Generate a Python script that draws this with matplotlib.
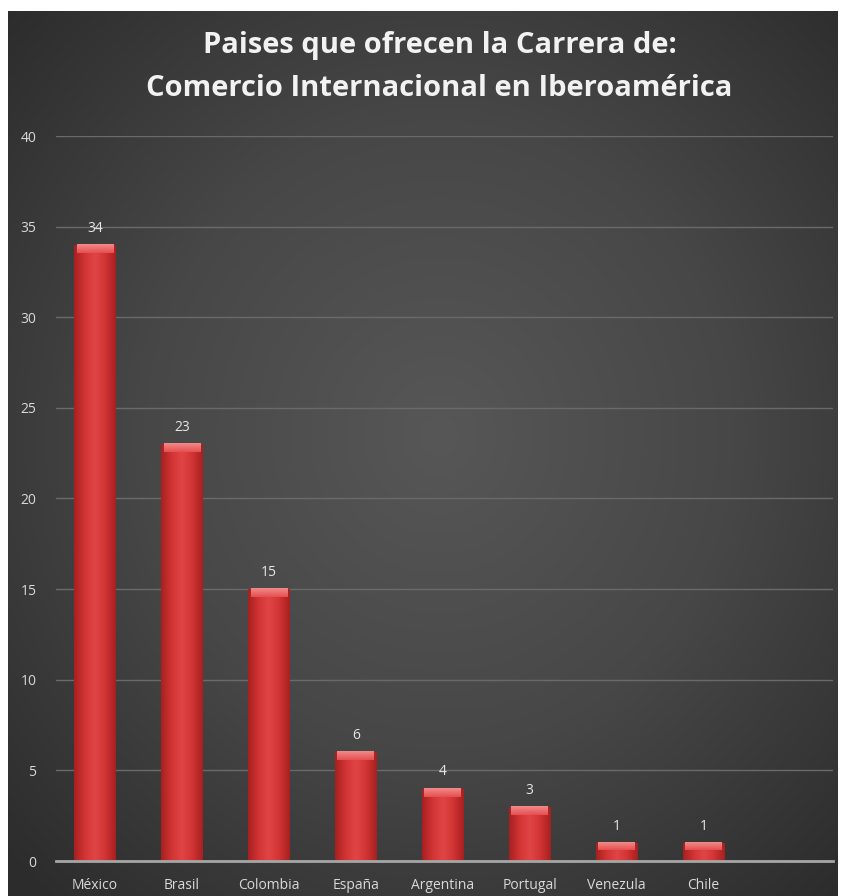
import numpy as np
import matplotlib.pyplot as plt
from matplotlib.colors import LinearSegmentedColormap

# Data
paises = ["México", "Brasil", "Colombia", "España", "Argentina", "Portugal", "Venezula", "Chile"]
carreras = [34, 23, 15, 6, 4, 3, 1, 1]
yticks = [0, 5, 10, 15, 20, 25, 30, 35, 40]
titulo = "Paises que ofrecen la Carrera de:\nComercio Internacional en Iberoamérica"

W, H = 842, 896
fig = plt.figure(figsize=(W / 100, H / 100), dpi=100)
fig.patch.set_facecolor("white")

# Dark radial background (white margin on left/top/right like the original)
x0, x1 = 8 / W, 838 / W
y0, y1 = 0, (H - 11) / H
bg = fig.add_axes([x0, y0, x1 - x0, y1 - y0])
bg.set_axis_off()
yy, xx = np.mgrid[0:1:400j, 0:1:400j]
r = np.sqrt(((xx - 0.52) / 0.75) ** 2 + ((yy - 0.48) / 0.75) ** 2)
r = np.clip(r / 0.95, 0, 1)
bg_cmap = LinearSegmentedColormap.from_list("bg", ["#575757", "#474747", "#2c2c2c"])
bg.imshow(r, cmap=bg_cmap, aspect="auto", extent=[0, 1, 0, 1], vmin=0, vmax=1)

# Plot area
ax_l, ax_r = 56 / W, 833 / W
ax_b, ax_t = (H - 861) / H, (H - 136) / H
ax = fig.add_axes([ax_l, ax_b, ax_r - ax_l, ax_t - ax_b])
ax.set_facecolor("none")

pos = np.arange(len(paises))
bars = ax.bar(pos, carreras, width=0.48, color="#d63a3a", zorder=3)

# horizontal shading across each bar plus a light bevel at the top
shade = LinearSegmentedColormap.from_list(
    "shade", ["#a82020", "#d23434", "#e04545", "#d23434", "#a82020"])
cap_cmap = LinearSegmentedColormap.from_list("cap", ["#f28a8a", "#e65050"])
grad = np.linspace(0, 1, 64).reshape(1, -1)
top = np.linspace(0, 1, 32).reshape(-1, 1)
for b in bars:
    bx, bw, bh = b.get_x(), b.get_width(), b.get_height()
    im = ax.imshow(grad, cmap=shade, aspect="auto",
                   extent=[bx, bx + bw, 0, bh], zorder=4)
    im.set_clip_path(b)
    cap = min(0.45, bh * 0.4)
    ax.imshow(top, cmap=cap_cmap, aspect="auto",
              extent=[bx + bw * 0.06, bx + bw * 0.94, bh - cap, bh], zorder=5)
    ax.text(bx + bw / 2, bh + 0.5, str(int(bh)), ha="center", va="bottom",
            color="#e6e6e6", fontsize=10, family="Open Sans", zorder=6)

ax.set_xlim(-0.45, 8.49)
ax.set_ylim(0, 40)
ax.set_yticks(yticks)
ax.set_xticks(pos)
ax.set_xticklabels(paises)
ax.tick_params(axis="both", length=0, colors="#d9d9d9", labelsize=10)
ax.tick_params(axis="y", pad=14)
ax.tick_params(axis="x", pad=12)
for lab in ax.get_xticklabels() + ax.get_yticklabels():
    lab.set_family("Open Sans")
ax.grid(axis="y", color="#6a6a6a", linewidth=1, zorder=1)
ax.grid(axis="x", visible=False)
for s in ["top", "right", "left"]:
    ax.spines[s].set_visible(False)
ax.spines["bottom"].set_color("#a6a6a6")
ax.spines["bottom"].set_linewidth(2)
ax.spines["bottom"].set_zorder(6)

fig.text(0.522, (H - 67) / H, titulo, ha="center", va="center", color="#f2f2f2",
         fontsize=21, fontweight="bold", family="Open Sans", linespacing=1.6)

fig.savefig("out.png", dpi=100)
